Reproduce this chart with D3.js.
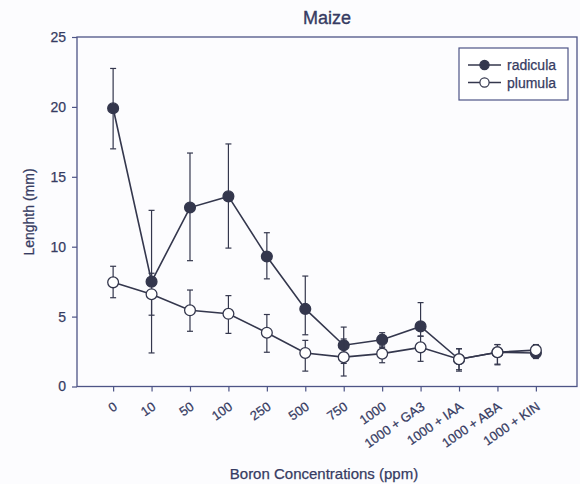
<!DOCTYPE html>
<html><head><meta charset="utf-8">
<script src="https://cdn.jsdelivr.net/npm/d3@7"></script>
<style>body{margin:0;background:#fcfcfe;}svg{display:block;font-family:"Liberation Sans",Arial,sans-serif;}</style>
</head><body><svg id="c" width="580" height="484"></svg>
<script>
const categories = ["0","10","50","100","250","500","750","1000","1000 + GA3","1000 + IAA","1000 + ABA","1000 + KIN"];
const radicula     = [19.9, 7.5, 12.8, 13.6, 9.3, 5.55, 2.95, 3.35, 4.3, 1.95, 2.45, 2.4];
const radiculaHigh = [22.75, 12.6, 16.7, 17.35, 11.0, 7.9, 4.25, 3.85, 6.0, 2.7, 3.0, 2.9];
const radiculaLow  = [17.0, 2.4, 9.0, 9.9, 7.7, 3.7, 1.65, 2.8, 3.6, 1.2, 1.6, 2.0];
const plumula      = [7.45, 6.6, 5.45, 5.2, 3.85, 2.4, 2.1, 2.35, 2.8, 1.95, 2.45, 2.6];
const plumulaHigh  = [8.6, 8.1, 6.9, 6.5, 5.15, 3.3, 3.4, 2.9, 3.6, 2.7, 3.0, 3.0];
const plumulaLow   = [6.35, 5.1, 3.95, 3.8, 2.45, 1.1, 0.75, 1.7, 1.8, 1.1, 1.55, 2.1];
const yTicks = [0, 5, 10, 15, 20, 25];

const axisCol = "#4d5486", textCol = "#363b62", dataCol = "#34374d";
const L = 77, R = 577, T = 37, B = 386.5;
const svg = d3.select("#c");
const x = d3.scaleLinear().domain([-0.94, 12.07]).range([L, R]);
const y = d3.scaleLinear().domain([0, 25]).range([B, T]);

// frame
svg.append("rect").attr("x", L).attr("y", T).attr("width", R - L).attr("height", B - T)
  .attr("fill", "none").attr("stroke", axisCol).attr("stroke-width", 1.3);

// y axis
const ya = svg.append("g").attr("transform", `translate(${L},0)`)
  .call(d3.axisLeft(y).tickValues(yTicks).tickSize(5).tickPadding(6));
ya.select(".domain").remove();
ya.selectAll("line").attr("stroke", axisCol).attr("stroke-width", 1.2);
ya.selectAll("text").attr("fill", textCol).attr("font-size", 14).attr("font-family", "Liberation Sans, Arial")
  .attr("stroke", textCol).attr("stroke-width", 0.25);

// x axis
const xa = svg.append("g").attr("transform", `translate(0,${B})`)
  .call(d3.axisBottom(x).tickValues(d3.range(categories.length)).tickSize(5).tickFormat(() => ""));
xa.select(".domain").remove();
xa.selectAll("line").attr("stroke", axisCol).attr("stroke-width", 1.2);
svg.append("g").selectAll("text").data(categories).join("text")
  .attr("transform", (d, i) => `translate(${x(i) + 5},${B + 22}) rotate(-35)`)
  .attr("text-anchor", "end").attr("font-size", 13).attr("fill", textCol)
  .attr("stroke", textCol).attr("stroke-width", 0.25).text(d => d);

// titles
svg.append("text").attr("x", (L + R) / 2).attr("y", 24).attr("text-anchor", "middle")
  .attr("font-size", 18).attr("fill", textCol).attr("stroke", textCol).attr("stroke-width", 0.35).text("Maize");
svg.append("text").attr("transform", `translate(34,212) rotate(-90)`).attr("text-anchor", "middle")
  .attr("font-size", 14).attr("fill", textCol).attr("stroke", textCol).attr("stroke-width", 0.25).text("Lenghth (mm)");
svg.append("text").attr("x", 324).attr("y", 479).attr("text-anchor", "middle")
  .attr("font-size", 15).attr("fill", textCol).attr("stroke", textCol).attr("stroke-width", 0.25).text("Boron Concentrations (ppm)");

function series(vals, hi, lo, filled) {
  const g = svg.append("g");
  const idx = d3.range(vals.length);
  g.selectAll("line.e").data(idx).join("line")
    .attr("x1", i => x(i)).attr("x2", i => x(i)).attr("y1", i => y(hi[i])).attr("y2", i => y(lo[i]))
    .attr("stroke", dataCol).attr("stroke-width", 1.2);
  [hi, lo].forEach(arr => {
    g.selectAll(null).data(idx).join("line")
      .attr("x1", i => x(i) - 3).attr("x2", i => x(i) + 3).attr("y1", i => y(arr[i])).attr("y2", i => y(arr[i]))
      .attr("stroke", dataCol).attr("stroke-width", 1.2);
  });
  g.append("path").datum(idx)
    .attr("d", d3.line().x(i => x(i)).y(i => y(vals[i])))
    .attr("fill", "none").attr("stroke", dataCol).attr("stroke-width", 1.6);
  g.selectAll("circle").data(idx).join("circle")
    .attr("cx", i => x(i)).attr("cy", i => y(vals[i])).attr("r", 5.4)
    .attr("fill", filled ? dataCol : "#fff").attr("stroke", dataCol).attr("stroke-width", 1.3);
}
series(radicula, radiculaHigh, radiculaLow, true);
series(plumula, plumulaHigh, plumulaLow, false);

// legend
const lg = svg.append("g");
lg.append("rect").attr("x", 459).attr("y", 48).attr("width", 109).attr("height", 52)
  .attr("fill", "#fff").attr("stroke", axisCol).attr("stroke-width", 1.2);
[["radicula", true, 65], ["plumula", false, 82.5]].forEach(([name, filled, yy]) => {
  lg.append("line").attr("x1", 468).attr("x2", 501).attr("y1", yy).attr("y2", yy)
    .attr("stroke", dataCol).attr("stroke-width", 1.5);
  lg.append("circle").attr("cx", 484.5).attr("cy", yy).attr("r", 4.6)
    .attr("fill", filled ? dataCol : "#fff").attr("stroke", dataCol).attr("stroke-width", 1.2);
  lg.append("text").attr("x", 507).attr("y", yy + 5).attr("font-size", 14).attr("fill", textCol)
    .attr("stroke", textCol).attr("stroke-width", 0.25).text(name);
});
</script></body></html>
